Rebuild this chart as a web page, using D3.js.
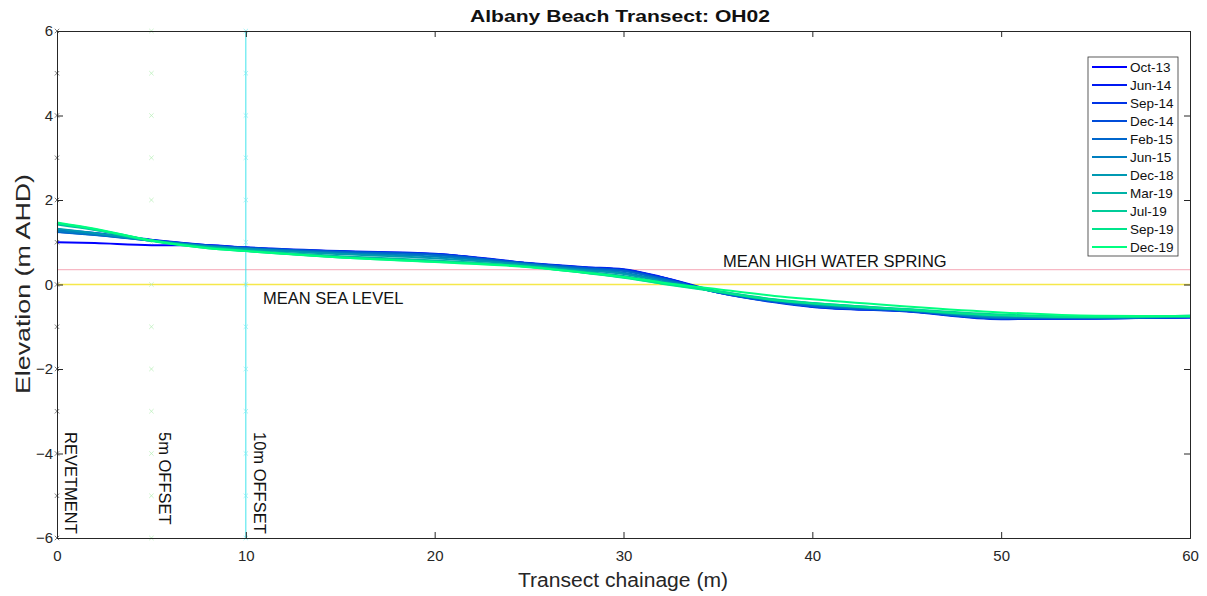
<!DOCTYPE html>
<html><head><meta charset="utf-8">
<script src="https://cdn.jsdelivr.net/npm/d3@7"></script>
<style>body{margin:0;background:#fff}svg{display:block;font-family:"Liberation Sans",Arial,sans-serif}</style>
</head><body><svg id="c" width="1207" height="596"></svg>
<script>
const chainage = [0, 2, 5, 8, 10, 15, 20, 25, 28, 30, 32, 35, 38, 40, 45, 50, 55, 60];
const seriesNames = ["Oct-13","Jun-14","Sep-14","Dec-14","Feb-15","Jun-15","Dec-18","Mar-19","Jul-19","Sep-19","Dec-19"];
const seriesColors = ["#0000ff","#0019f2","#0033e6","#004cd9","#0066cc","#007fbf","#0099b2","#00b2a6","#00cc99","#00e58c","#00ff80"];
const oct13 = [1.00, 0.98, 0.93, 0.93, 0.87, 0.78, 0.72, 0.50, 0.40, 0.35, 0.17, -0.18, -0.40, -0.52, -0.63, -0.80, -0.80, -0.78];
const jun14 = [1.30, 1.22, 1.06, 0.93, 0.88, 0.79, 0.73, 0.51, 0.41, 0.36, 0.18, -0.17, -0.40, -0.52, -0.63, -0.81, -0.80, -0.78];
const sep14 = [1.28, 1.20, 1.05, 0.93, 0.87, 0.78, 0.72, 0.50, 0.40, 0.35, 0.17, -0.19, -0.42, -0.53, -0.64, -0.82, -0.81, -0.77];
const dec14 = [1.25, 1.18, 1.05, 0.92, 0.87, 0.78, 0.71, 0.50, 0.39, 0.33, 0.15, -0.19, -0.41, -0.51, -0.63, -0.80, -0.80, -0.77];
const feb15 = [1.24, 1.17, 1.04, 0.92, 0.86, 0.77, 0.70, 0.49, 0.38, 0.32, 0.14, -0.19, -0.40, -0.51, -0.62, -0.79, -0.79, -0.76];
const jun15 = [1.27, 1.19, 1.04, 0.91, 0.85, 0.74, 0.66, 0.47, 0.35, 0.28, 0.11, -0.18, -0.38, -0.48, -0.61, -0.78, -0.79, -0.77];
const dec18 = [1.32, 1.22, 1.04, 0.90, 0.84, 0.72, 0.62, 0.46, 0.33, 0.25, 0.08, -0.17, -0.37, -0.46, -0.60, -0.76, -0.78, -0.76];
const mar19 = [1.42, 1.29, 1.04, 0.88, 0.81, 0.67, 0.57, 0.43, 0.30, 0.20, 0.05, -0.16, -0.36, -0.44, -0.59, -0.73, -0.77, -0.74];
const jul19 = [1.45, 1.31, 1.04, 0.87, 0.80, 0.65, 0.55, 0.42, 0.28, 0.17, 0.03, -0.16, -0.35, -0.44, -0.58, -0.71, -0.76, -0.75];
const sep19 = [1.45, 1.30, 1.03, 0.86, 0.79, 0.64, 0.54, 0.42, 0.27, 0.16, 0.02, -0.17, -0.37, -0.45, -0.60, -0.73, -0.77, -0.74];
const dec19 = [1.47, 1.32, 1.04, 0.86, 0.79, 0.64, 0.53, 0.41, 0.28, 0.18, 0.05, -0.11, -0.27, -0.35, -0.52, -0.66, -0.74, -0.75];
const seriesValues = [oct13, jun14, sep14, dec14, feb15, jun15, dec18, mar19, jul19, sep19, dec19];
const xTicks = [0,10,20,30,40,50,60];
const yTicks = [-6,-4,-2,0,2,4,6];
const markerY = [-6,-5,-4,-3,-2,-1,0,1,2,3,4,5,6];
const mhws = 0.35, msl = 0;
const offsets = [{x:0,label:"REVETMENT",color:"#444"},{x:5,label:"5m OFFSET",color:"#b5eeb5"},{x:10,label:"10m OFFSET",color:"#7feef2"}];

const svg = d3.select("#c");
const L=57, R=1190, T=31, B=538;
const x = d3.scaleLinear().domain([0,60]).range([L,R]);
const y = d3.scaleLinear().domain([-6,6]).range([B,T]);

// reference lines
svg.append("line").attr("x1",L).attr("x2",R).attr("y1",y(mhws)).attr("y2",y(mhws)).attr("stroke","#f7b8c4").attr("stroke-width",1.3);
svg.append("line").attr("x1",L).attr("x2",R).attr("y1",y(msl)).attr("y2",y(msl)).attr("stroke","#f5e84a").attr("stroke-width",1.3);
svg.append("line").attr("x1",x(10)).attr("x2",x(10)).attr("y1",T).attr("y2",B).attr("stroke","#40e4ec").attr("stroke-width",1);

// markers
offsets.forEach(o=>{
  markerY.forEach(v=>{
    const cx=x(o.x), cy=y(v), s=2.2;
    svg.append("path").attr("d",`M${cx-s},${cy-s}L${cx+s},${cy+s}M${cx-s},${cy+s}L${cx+s},${cy-s}`)
      .attr("stroke",o.color).attr("stroke-width",0.7).attr("fill","none");
  });
});

// lines
const line = d3.line().x((d,i)=>x(chainage[i])).y(d=>y(d)).curve(d3.curveMonotoneX);
seriesValues.forEach((vals,i)=>{
  svg.append("path").attr("d",line(vals)).attr("fill","none").attr("stroke",seriesColors[i]).attr("stroke-width",2);
});

// axes
svg.append("g").attr("transform",`translate(0,${B})`).call(d3.axisBottom(x).tickValues(xTicks).tickSize(-6).tickPadding(12));
svg.append("g").attr("transform",`translate(${L},0)`).call(d3.axisLeft(y).tickValues(yTicks).tickSize(-6).tickPadding(4));
svg.append("g").attr("transform",`translate(${R},0)`).call(d3.axisRight(y).tickValues(yTicks).tickSize(-6).tickFormat(""));
svg.append("g").attr("transform",`translate(0,${T})`).call(d3.axisTop(x).tickValues(xTicks).tickSize(-6).tickFormat(""));
svg.selectAll(".domain").attr("stroke","#262626");
svg.selectAll(".tick line").attr("stroke","#262626");
svg.selectAll(".tick text").attr("font-size",15).attr("fill","#262626").attr("font-family","Liberation Sans, Arial");

// texts
svg.append("text").attr("x",620).attr("y",22).attr("text-anchor","middle").attr("font-size",16).attr("font-weight","bold").attr("fill","#111").attr("textLength",300).attr("lengthAdjust","spacingAndGlyphs").text("Albany Beach Transect: OH02");
svg.append("text").attr("x",623).attr("y",587).attr("text-anchor","middle").attr("font-size",20).attr("fill","#262626").attr("textLength",210).attr("lengthAdjust","spacingAndGlyphs").text("Transect chainage (m)");
svg.append("text").attr("transform","translate(30,284) rotate(-90)").attr("text-anchor","middle").attr("font-size",21).attr("fill","#262626").attr("textLength",220).attr("lengthAdjust","spacingAndGlyphs").text("Elevation (m AHD)");
svg.append("text").attr("x",723).attr("y",y(mhws)-3).attr("font-size",16.5).attr("fill","#111").text("MEAN HIGH WATER SPRING");
svg.append("text").attr("x",263).attr("y",y(msl)+19).attr("font-size",16.5).attr("fill","#111").text("MEAN SEA LEVEL");
offsets.forEach(o=>{
  svg.append("text").attr("transform",`translate(${x(o.x)+8},${432}) rotate(90)`).attr("font-size",16.5).attr("fill","#111").text(o.label);
});

// legend
const lg = svg.append("g");
lg.append("rect").attr("x",1088).attr("y",57).attr("width",90).attr("height",199).attr("fill","#fff").attr("stroke","#333").attr("stroke-width",0.8);
seriesNames.forEach((n,i)=>{
  const yy = 67 + i*18;
  lg.append("line").attr("x1",1092).attr("x2",1127).attr("y1",yy).attr("y2",yy).attr("stroke",seriesColors[i]).attr("stroke-width",2);
  lg.append("text").attr("x",1130).attr("y",yy+5).attr("font-size",13.5).attr("fill","#111").text(n);
});
</script></body></html>
